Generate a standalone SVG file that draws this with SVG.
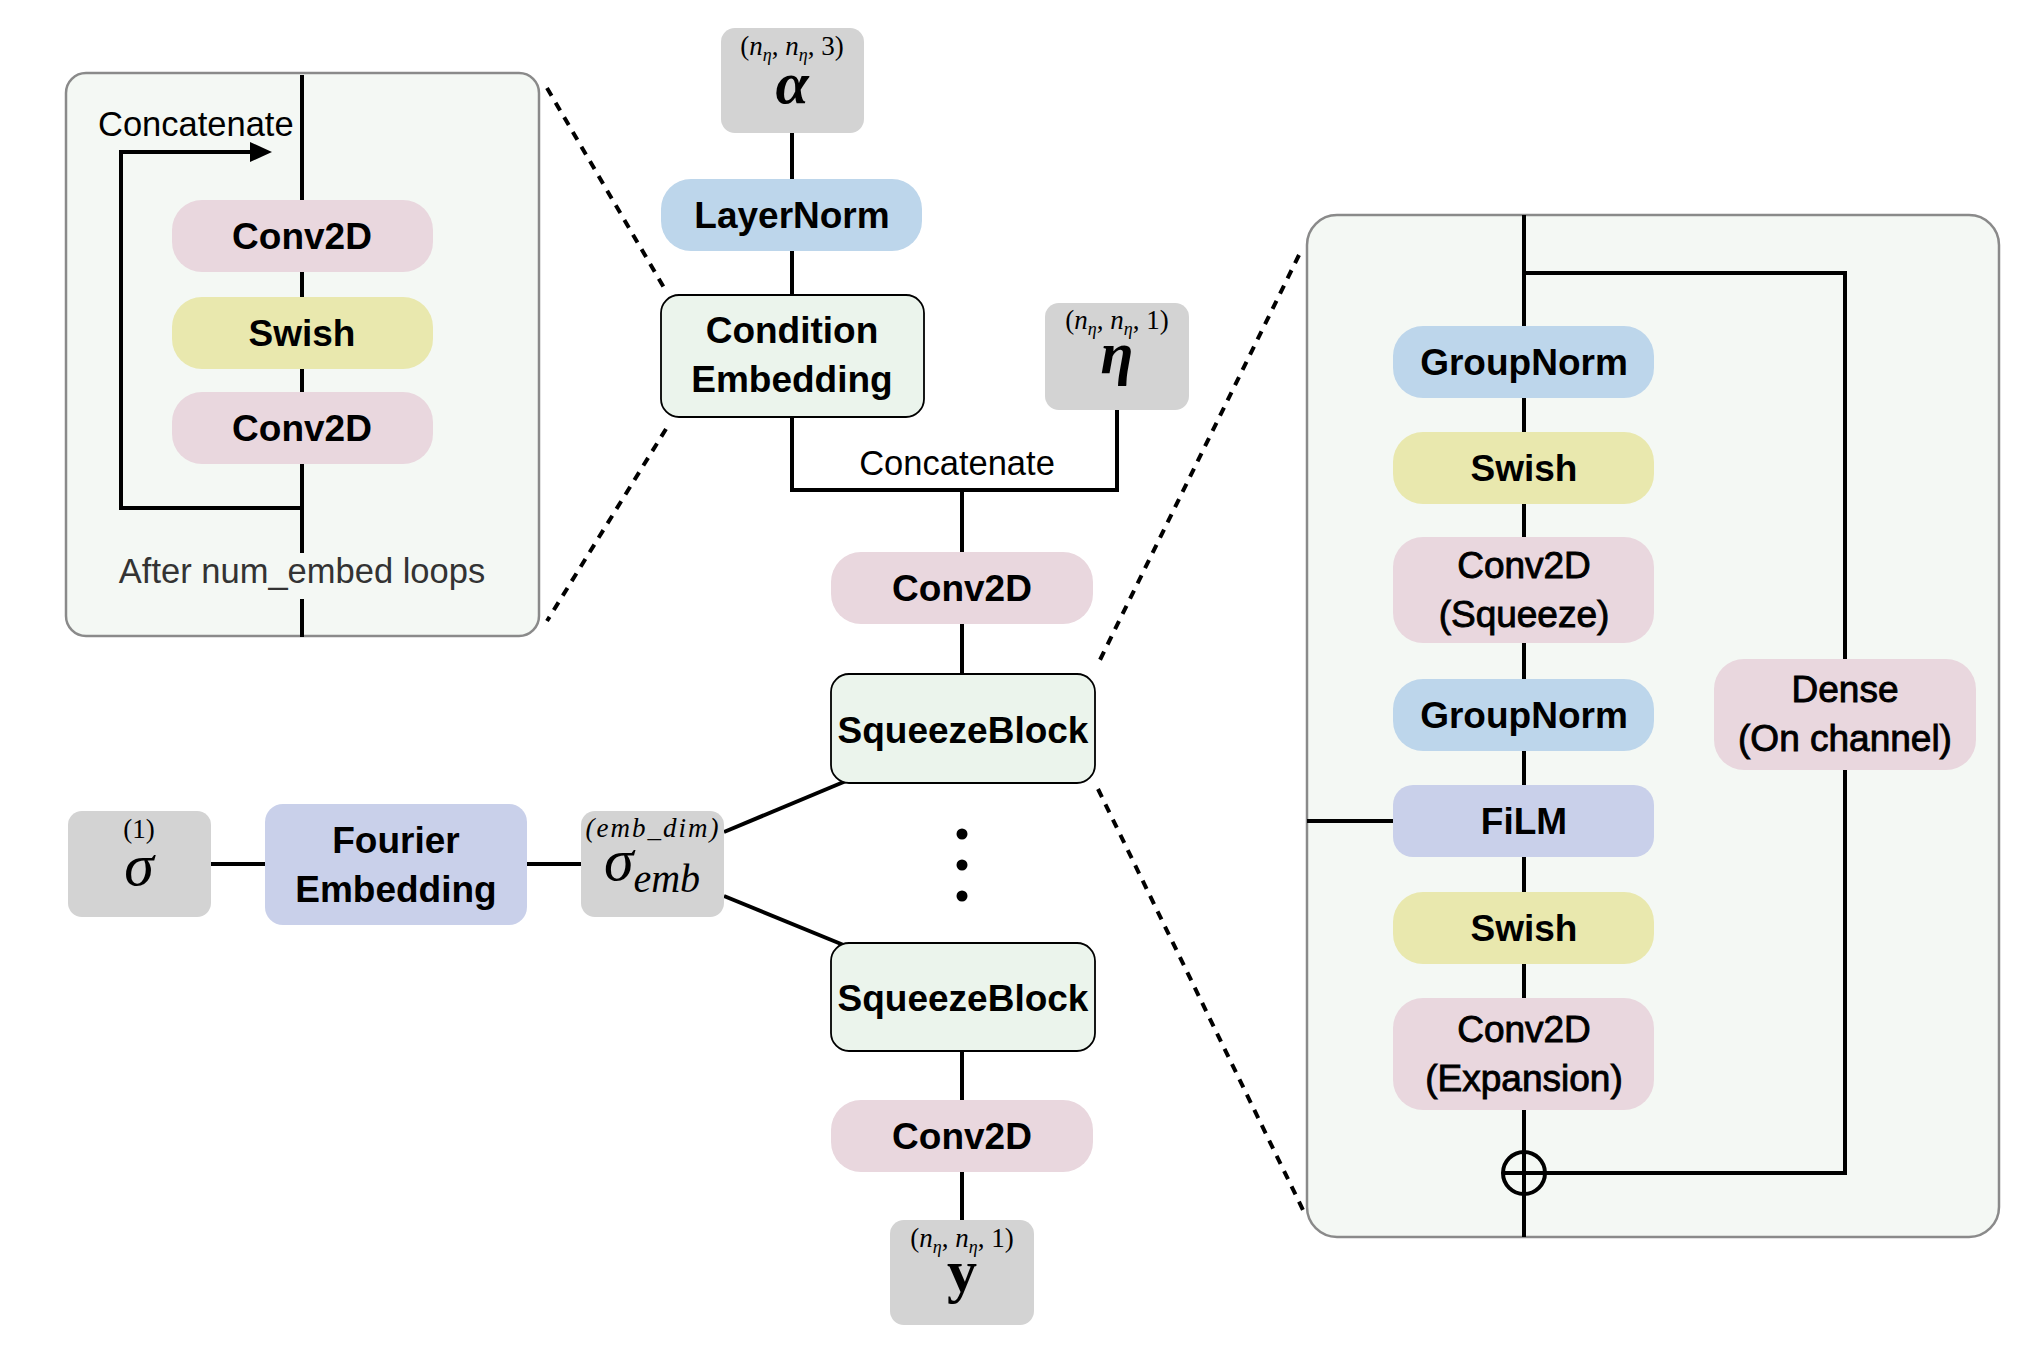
<svg xmlns="http://www.w3.org/2000/svg" width="2028" height="1348" viewBox="0 0 2028 1348">
<style>
.panel{fill:#f4f8f4;stroke:#8a8a8a;stroke-width:2.5}
.gray{fill:#d3d3d3}
.blue{fill:#bdd6eb}
.pink{fill:#e9d7de}
.yellow{fill:#e9e8ae}
.purple{fill:#c9d0ea}
.green{fill:#ebf4ec;stroke:#000;stroke-width:1.8}
.lbl{font-family:"Liberation Sans",Arial,Helvetica,sans-serif;font-size:37px;font-weight:bold;fill:#000;text-anchor:middle}
.lblm{font-family:"Liberation Sans",Arial,Helvetica,sans-serif;font-size:37px;font-weight:normal;fill:#000;stroke:#000;stroke-width:0.9;text-anchor:middle}
.plain{font-family:"Liberation Sans",Arial,Helvetica,sans-serif;font-size:34.5px;fill:#000}
.note{font-family:"Liberation Sans",Arial,Helvetica,sans-serif;font-size:34.5px;fill:#333;text-anchor:middle}
.msm{font-family:"Liberation Serif","Times New Roman",serif;font-size:27px;fill:#000;text-anchor:middle}
.mbig{font-family:"Liberation Serif","Times New Roman",serif;font-size:60px;fill:#000;text-anchor:middle}
.ln{stroke:#000;stroke-width:4;fill:none}
.dot{stroke:#000;stroke-width:4;fill:none;stroke-dasharray:9 8}
</style>

<!-- panels -->
<g id="panel-condition">
<rect class="panel" x="66" y="73" width="473" height="563" rx="20"/>
</g>
<g id="panel-squeeze">
<rect class="panel" x="1307" y="215" width="692" height="1022" rx="30"/>
</g>

<g id="connectors">
<!-- left panel -->
<line class="ln" x1="302" y1="75" x2="302" y2="553"/>
<line class="ln" x1="302" y1="599" x2="302" y2="637"/>
<polyline class="ln" points="302,508 121,508 121,152 252,152"/>
<path d="M250,142 L272,152 L250,162 z" fill="#000"/>
<!-- dotted zoom lines -->
<line class="dot" x1="547" y1="88" x2="666" y2="291"/>
<line class="dot" x1="666" y1="429" x2="547" y2="621"/>
<line class="dot" x1="1299" y1="255" x2="1097" y2="666"/>
<line class="dot" x1="1098" y1="789" x2="1304" y2="1212"/>
<!-- main chain -->
<line class="ln" x1="792" y1="133" x2="792" y2="179"/>
<line class="ln" x1="792" y1="251" x2="792" y2="295"/>
<polyline class="ln" points="792,417 792,490 1117,490 1117,410"/>
<line class="ln" x1="962" y1="490" x2="962" y2="552"/>
<line class="ln" x1="962" y1="624" x2="962" y2="674"/>
<line class="ln" x1="962" y1="1051" x2="962" y2="1100"/>
<line class="ln" x1="962" y1="1172" x2="962" y2="1220"/>
<line class="ln" x1="211" y1="864" x2="265" y2="864"/>
<line class="ln" x1="527" y1="864" x2="581" y2="864"/>
<line class="ln" x1="724" y1="832" x2="846" y2="781"/>
<line class="ln" x1="724" y1="896" x2="846" y2="946"/>
<!-- right panel -->
<line class="ln" x1="1524" y1="215" x2="1524" y2="1237"/>
<polyline class="ln" points="1524,273 1845,273 1845,659"/>
<polyline class="ln" points="1845,770 1845,1173 1503,1173"/>
<line class="ln" x1="1307" y1="821" x2="1393" y2="821"/>
</g>

<!-- left panel nodes -->
<text class="plain" x="98" y="136">Concatenate</text>
<g id="ce-conv1"><rect class="pink" x="172" y="200" width="261" height="72" rx="30"/><text class="lbl" x="302" y="249">Conv2D</text></g>
<g id="ce-swish"><rect class="yellow" x="172" y="297" width="261" height="72" rx="30"/><text class="lbl" x="302" y="346">Swish</text></g>
<g id="ce-conv2"><rect class="pink" x="172" y="392" width="261" height="72" rx="30"/><text class="lbl" x="302" y="441">Conv2D</text></g>
<text class="note" x="302" y="583">After num_embed loops</text>

<!-- main chain nodes -->
<g id="alpha">
<rect class="gray" x="721" y="28" width="143" height="105" rx="14"/>
<text class="msm" x="792" y="55">(<tspan font-style="italic">n</tspan><tspan font-style="italic" font-size="18" dy="6">η</tspan><tspan dy="-6">, </tspan><tspan font-style="italic">n</tspan><tspan font-style="italic" font-size="18" dy="6">η</tspan><tspan dy="-6">, 3)</tspan></text>
<text class="mbig" x="792" y="103" font-weight="bold" font-style="italic">α</text>
</g>
<g id="layernorm"><rect class="blue" x="661" y="179" width="261" height="72" rx="30"/><text class="lbl" x="792" y="228">LayerNorm</text></g>
<g id="condition"><rect class="green" x="661" y="295" width="263" height="122" rx="18"/><text class="lbl" x="792" y="343">Condition</text><text class="lbl" x="792" y="392">Embedding</text></g>
<g id="eta">
<rect class="gray" x="1045" y="303" width="144" height="107" rx="14"/>
<text class="msm" x="1117" y="329">(<tspan font-style="italic">n</tspan><tspan font-style="italic" font-size="18" dy="6">η</tspan><tspan dy="-6">, </tspan><tspan font-style="italic">n</tspan><tspan font-style="italic" font-size="18" dy="6">η</tspan><tspan dy="-6">, 1)</tspan></text>
<text class="mbig" x="1117" y="373" font-weight="bold" font-style="italic">η</text>
</g>
<text class="plain" x="957" y="475" text-anchor="middle">Concatenate</text>
<g id="conv-in"><rect class="pink" x="831" y="552" width="262" height="72" rx="30"/><text class="lbl" x="962" y="601">Conv2D</text></g>
<g id="squeeze1"><rect class="green" x="831" y="674" width="264" height="109" rx="18"/><text class="lbl" x="963" y="743">SqueezeBlock</text></g>
<g id="ellipsis"><circle cx="962" cy="834" r="5.5"/><circle cx="962" cy="865" r="5.5"/><circle cx="962" cy="896" r="5.5"/></g>
<g id="squeeze2"><rect class="green" x="831" y="943" width="264" height="108" rx="18"/><text class="lbl" x="963" y="1011">SqueezeBlock</text></g>
<g id="conv-out"><rect class="pink" x="831" y="1100" width="262" height="72" rx="30"/><text class="lbl" x="962" y="1149">Conv2D</text></g>
<g id="y-out">
<rect class="gray" x="890" y="1220" width="144" height="105" rx="14"/>
<text class="msm" x="962" y="1247">(<tspan font-style="italic">n</tspan><tspan font-style="italic" font-size="18" dy="6">η</tspan><tspan dy="-6">, </tspan><tspan font-style="italic">n</tspan><tspan font-style="italic" font-size="18" dy="6">η</tspan><tspan dy="-6">, 1)</tspan></text>
<text class="mbig" x="962" y="1291" font-weight="bold">y</text>
</g>

<!-- sigma chain -->
<g id="sigma">
<rect class="gray" x="68" y="811" width="143" height="106" rx="14"/>
<text class="msm" x="139" y="838">(1)</text>
<text class="mbig" x="139" y="885" font-style="italic">σ</text>
</g>
<g id="fourier"><rect class="purple" x="265" y="804" width="262" height="121" rx="18"/><text class="lbl" x="396" y="853">Fourier</text><text class="lbl" x="396" y="902">Embedding</text></g>
<g id="sigma-emb">
<rect class="gray" x="581" y="811" width="143" height="106" rx="14"/>
<text class="msm" x="653" y="837" font-style="italic" font-size="28" letter-spacing="2">(emb_dim)</text>
<text class="mbig" x="652" y="880" font-style="italic">σ<tspan font-size="40" dy="12">emb</tspan></text>
</g>

<!-- squeeze block detail -->
<g id="sb-gn1"><rect class="blue" x="1393" y="326" width="261" height="72" rx="30"/><text class="lbl" x="1524" y="375">GroupNorm</text></g>
<g id="sb-swish1"><rect class="yellow" x="1393" y="432" width="261" height="72" rx="30"/><text class="lbl" x="1524" y="481">Swish</text></g>
<g id="sb-conv-sq"><rect class="pink" x="1393" y="537" width="261" height="106" rx="30"/><text class="lblm" x="1524" y="578">Conv2D</text><text class="lblm" x="1524" y="627">(Squeeze)</text></g>
<g id="sb-gn2"><rect class="blue" x="1393" y="679" width="261" height="72" rx="30"/><text class="lbl" x="1524" y="728">GroupNorm</text></g>
<g id="sb-film"><rect class="purple" x="1393" y="785" width="261" height="72" rx="20"/><text class="lbl" x="1524" y="834">FiLM</text></g>
<g id="sb-swish2"><rect class="yellow" x="1393" y="892" width="261" height="72" rx="30"/><text class="lbl" x="1524" y="941">Swish</text></g>
<g id="sb-conv-ex"><rect class="pink" x="1393" y="998" width="261" height="112" rx="30"/><text class="lblm" x="1524" y="1042">Conv2D</text><text class="lblm" x="1524" y="1091">(Expansion)</text></g>
<g id="sb-dense"><rect class="pink" x="1714" y="659" width="262" height="111" rx="30"/><text class="lblm" x="1845" y="702">Dense</text><text class="lblm" x="1845" y="751">(On channel)</text></g>
<g id="sb-add"><circle cx="1524" cy="1173" r="21" fill="none" stroke="#000" stroke-width="4"/></g>
</svg>
